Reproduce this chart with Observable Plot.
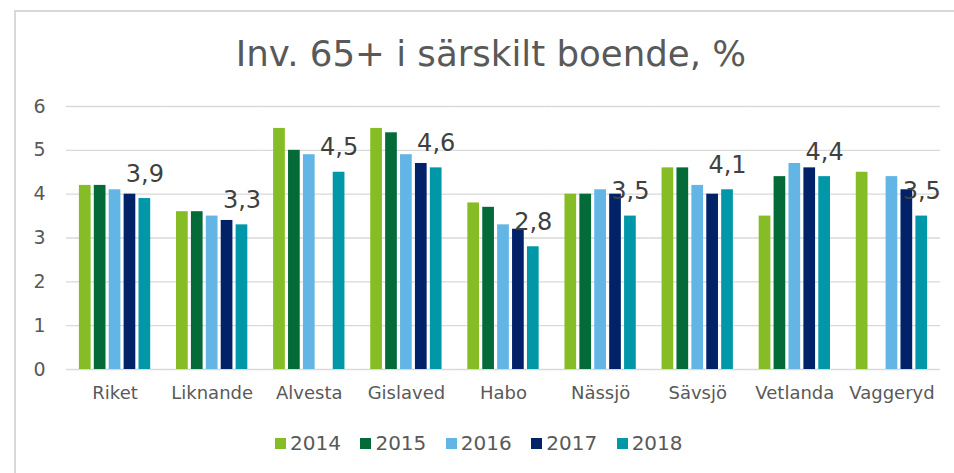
<!DOCTYPE html>
<html>
<head>
<meta charset="utf-8">
<script src="https://cdn.jsdelivr.net/npm/d3@7"></script>
<script src="https://cdn.jsdelivr.net/npm/@observablehq/plot@0.6"></script>
<style>
  html, body { margin: 0; padding: 0; background: #fff; }
  #wrap { position: relative; width: 954px; height: 473px; overflow: hidden; background: #fff; font-family: "DejaVu Sans", Verdana, sans-serif; }
  #frame { position: absolute; left: 14px; top: 10px; width: 1200px; height: 1200px; border-top: 2px solid #d9d9d9; border-left: 2px solid #d9d9d9; box-sizing: border-box; z-index: 3; pointer-events: none; }
  #title { position: absolute; left: 0; width: 982px; top: 36px; text-align: center; font-size: 35.6px; line-height: 35px; color: #595959; white-space: nowrap; }
  #chart { position: absolute; left: 0; top: 80px; }
  #legend { position: absolute; left: 275px; top: 431px; display: flex; align-items: center; font-size: 20px; line-height: 24px; color: #595959; white-space: nowrap; }
  .item { display: flex; align-items: center; margin-right: 19.5px; }
  .sw { width: 11px; height: 11px; margin-right: 4px; }
  g[aria-label^="y-axis"] text { font-size: 19px; }
  g[aria-label^="fx-axis"] text { font-size: 18px; }
</style>
</head>
<body>
<div id="wrap">
  <div id="frame"></div>
  <div id="title">Inv. 65+ i särskilt boende, %</div>
  <div id="chart"></div>
  <div id="legend"></div>
</div>
<script>
const categories = ["Riket", "Liknande", "Alvesta", "Gislaved", "Habo", "Nässjö", "Sävsjö", "Vetlanda", "Vaggeryd"];
const years = ["2014", "2015", "2016", "2017", "2018"];
const colors = ["#86bc25", "#046a38", "#62b5e5", "#012169", "#0097a9"];
const v2014 = [4.2, 3.6, 5.5, 5.5, 3.8, 4.0, 4.6, 3.5, 4.5];
const v2015 = [4.2, 3.6, 5.0, 5.4, 3.7, 4.0, 4.6, 4.4, null];
const v2016 = [4.1, 3.5, 4.9, 4.9, 3.3, 4.1, 4.2, 4.7, 4.4];
const v2017 = [4.0, 3.4, null, 4.7, 3.2, 4.0, 4.0, 4.6, 4.1];
const v2018 = [3.9, 3.3, 4.5, 4.6, 2.8, 3.5, 4.1, 4.4, 3.5];
const yTicks = [0, 1, 2, 3, 4, 5, 6];

const series = [v2014, v2015, v2016, v2017, v2018];
const data = [];
years.forEach((yr, i) => {
  categories.forEach((c, j) => {
    const v = series[i][j];
    if (v != null) data.push({cat: c, year: yr, value: v});
  });
});
const labelData = data.filter(d => d.year === "2018");
const fmt = v => v.toFixed(1).replace(".", ",");

const chart = Plot.plot({
  width: 954,
  height: 340,
  marginTop: 26,
  marginBottom: 51,
  marginLeft: 66,
  marginRight: 14,
  style: {fontFamily: "DejaVu Sans, Verdana, sans-serif", color: "#595959", background: "transparent", overflow: "visible"},
  fx: {domain: categories, padding: 0, round: false, axis: "bottom", tickSize: 0, tickPadding: 17, label: null},
  x: {domain: years, paddingInner: 0.215, paddingOuter: 0.866, round: false, axis: null},
  y: {domain: [0, 6], ticks: yTicks, tickSize: 0, tickPadding: 21, label: null, tickFormat: d => String(d)},
  color: {domain: years, range: colors},
  marks: [
    Plot.ruleY(yTicks, {stroke: "#d9d9d9", strokeWidth: 1.3}),
    Plot.barY(data, {fx: "cat", x: "year", y: "value", fill: "year"}),
    Plot.text(labelData, {fx: "cat", x: "year", y: "value", text: d => fmt(d.value), dy: -17, lineAnchor: "bottom", fontSize: 24, fill: "#404040"})
  ]
});
document.getElementById("chart").appendChild(chart);

const legend = document.getElementById("legend");
years.forEach((yr, i) => {
  const it = document.createElement("div");
  it.className = "item";
  const sw = document.createElement("div");
  sw.className = "sw";
  sw.style.background = colors[i];
  const tx = document.createElement("span");
  tx.textContent = yr;
  it.appendChild(sw);
  it.appendChild(tx);
  legend.appendChild(it);
});
</script>
</body>
</html>
